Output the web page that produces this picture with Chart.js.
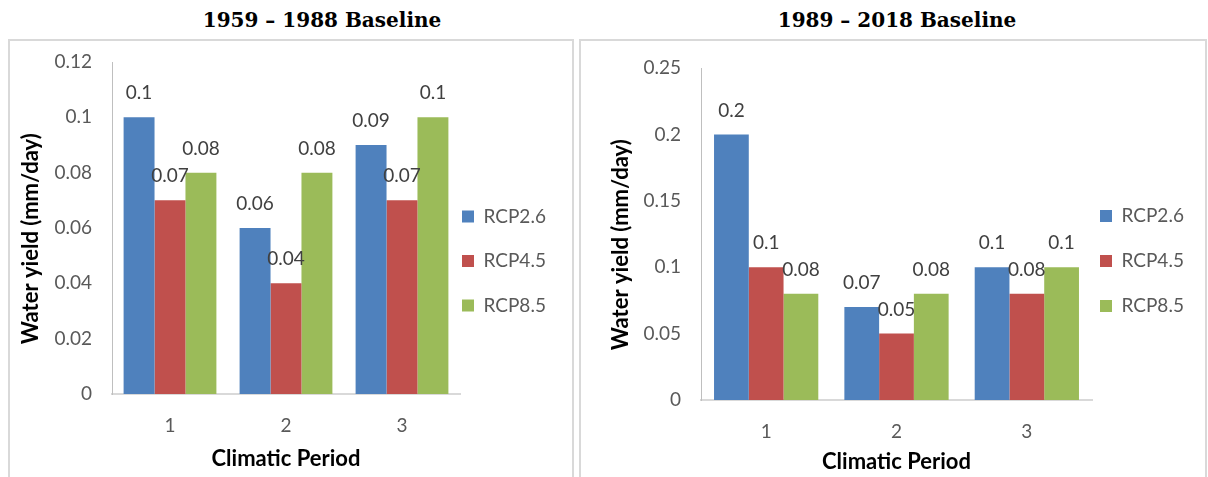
<!DOCTYPE html>
<html><head><meta charset="utf-8">
<script src="https://cdn.jsdelivr.net/npm/chart.js@4.4.1/dist/chart.umd.min.js"></script>
<style>
html,body{margin:0;padding:0;background:#fff;width:1208px;height:477px;overflow:hidden;position:relative}
.title{position:absolute;top:8px;font-family:"DejaVu Serif",serif;font-weight:bold;font-size:20px;line-height:24px;color:#000;white-space:nowrap;transform:translateX(-50%)}
.panel{position:absolute;top:39px;height:460px;border:2px solid #d9d9d9;box-sizing:border-box}
canvas{position:absolute}
</style></head><body>
<div class="title" style="left:322px">1959 – 1988 Baseline</div>
<div class="title" style="left:897px">1989 – 2018 Baseline</div>
<div class="panel" style="left:8px;width:566px"></div>
<div class="panel" style="left:579px;width:628px"></div>
<canvas id="c1" width="561" height="434" style="left:10px;top:41px"></canvas>
<canvas id="c2" width="623" height="437" style="left:581px;top:41px"></canvas>
<script>
const categories = ['1', '2', '3'];
const seriesNames = ['RCP2.6', 'RCP4.5', 'RCP8.5'];
const seriesColors = ['#4F81BD', '#C0504D', '#9BBB59'];
// 1959 – 1988 baseline
const rcp26_1959 = [0.1, 0.06, 0.09];
const rcp45_1959 = [0.07, 0.04, 0.07];
const rcp85_1959 = [0.08, 0.08, 0.1];
const yTicks1959 = [0, 0.02, 0.04, 0.06, 0.08, 0.1, 0.12];
// 1989 – 2018 baseline
const rcp26_1989 = [0.2, 0.07, 0.1];
const rcp45_1989 = [0.1, 0.05, 0.08];
const rcp85_1989 = [0.08, 0.08, 0.1];
const yTicks1989 = [0, 0.05, 0.1, 0.15, 0.2, 0.25];
const xTitle = 'Climatic Period';
const yTitle = 'Water yield (mm/day)';

const valueLabels = {
  id: 'valueLabels',
  afterDatasetsDraw(chart) {
    const ctx = chart.ctx;
    ctx.save();
    ctx.font = '19px Lato';
    ctx.fillStyle = '#404040';
    ctx.textAlign = 'center';
    ctx.textBaseline = 'middle';
    chart.data.datasets.forEach((ds, i) => {
      chart.getDatasetMeta(i).data.forEach((el, j) => {
        ctx.fillText(String(ds.data[j]), el.x, el.y - 24);
      });
    });
    ctx.restore();
  }
};

function makeChart(id, sets, yTicks, o) {
  const cfg = {
    type: 'bar',
    data: {
      labels: categories,
      datasets: sets.map((d, i) => ({
        label: seriesNames[i], data: d, backgroundColor: seriesColors[i],
        borderWidth: 0, categoryPercentage: 0.8, barPercentage: 1
      }))
    },
    options: {
      responsive: false, animation: false,
      layout: { padding: { left: o.padL, top: o.padT, right: 60, bottom: 0 } },
      plugins: {
        legend: {
          position: 'right', align: 'start',
          title: { display: true, text: '', font: { size: 10, lineHeight: '10px' }, padding: { top: o.legT - 10, bottom: 0 } },
          labels: {
            boxWidth: 12, boxHeight: 12, padding: o.legP, color: '#595959',
            font: { family: 'Lato', size: 19, lineHeight: o.legL + 'px' },
            generateLabels(chart) {
              return Chart.defaults.plugins.legend.labels.generateLabels(chart).map(l => Object.assign({}, l, { text: [l.text] }));
            }
          }
        },
        tooltip: { enabled: false }
      },
      scales: {
        x: {
          grid: { display: false, drawTicks: false },
          border: { display: true, color: '#d9d9d9', width: 2 },
          ticks: { color: '#595959', font: { family: 'Lato', size: 19 }, padding: 20 },
          title: { display: true, text: xTitle, color: '#000', font: { family: 'Lato', size: 22, weight: 'bold' }, padding: { top: 0, bottom: 3 } },
          afterFit(s) { s.height = o.xH; }
        },
        y: {
          min: 0, max: yTicks[yTicks.length - 1],
          grid: { display: false, drawTicks: false },
          border: { display: true, color: '#bfbfbf', width: 1 },
          afterBuildTicks(s) { s.ticks = yTicks.map(v => ({ value: v })); },
          ticks: { color: '#595959', font: { family: 'Lato', size: 19 }, padding: 20, callback: v => String(v) },
          title: { display: true, text: yTitle + '    ', color: '#000', font: { family: 'Lato', size: 22, weight: 'bold' }, padding: { top: 0, bottom: 0 } },
          afterFit(s) { s.width = o.yW; s.paddingTop = 0; s.paddingBottom = 0; }
        }
      }
    },
    plugins: [valueLabels]
  };
  const chart = new Chart(document.getElementById(id), cfg);
  const diff = chart.chartArea.right - o.right;
  cfg.options.layout.padding.right += diff;
  chart.update('none');
  return chart;
}

makeChart('c1', [rcp26_1959, rcp45_1959, rcp85_1959], yTicks1959,
  { padL: 8, padT: 21, yW: 94, xH: 81, right: 450, legP: 2, legL: 42.5, legT: 143 });
makeChart('c2', [rcp26_1989, rcp45_1989, rcp85_1989], yTicks1989,
  { padL: 27, padT: 27, yW: 93, xH: 78, right: 511, legP: 8, legL: 37, legT: 130.5 });
</script>
</body></html>
